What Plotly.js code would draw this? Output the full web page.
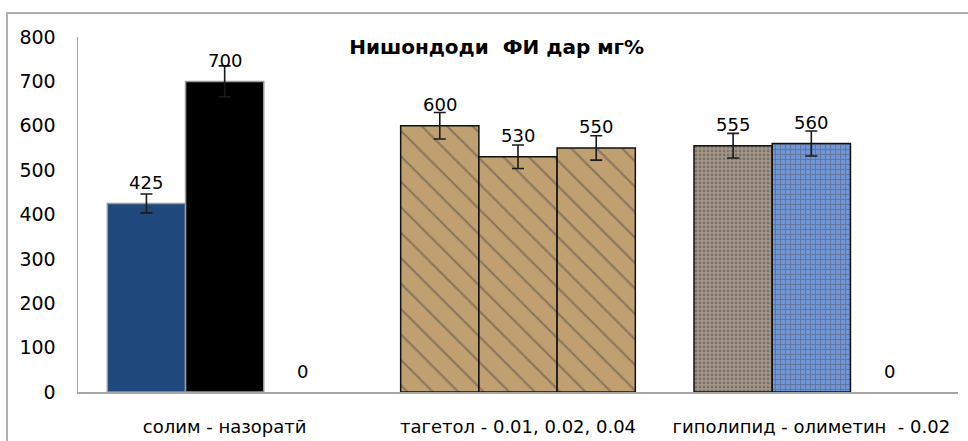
<!DOCTYPE html>
<html>
<head>
<meta charset="utf-8">
<script src="https://cdn.plot.ly/plotly-3.0.1.min.js"></script>
<style>
  html, body { margin: 0; padding: 0; background: #fff; overflow: hidden; }
  #wrap { position: relative; width: 968px; height: 441px; }
  #chart { position: absolute; left: 0; top: 0; width: 968px; height: 441px; }
  #frame {
    position: absolute; left: 6px; top: 12px; width: 1000px; height: 500px;
    border-top: 2px solid #b0b0b0; border-left: 2px solid #b0b0b0;
    pointer-events: none;
  }
</style>
</head>
<body>
<div id="wrap">
  <div id="chart"></div>
  <div id="frame"></div>
</div>
<script>
// Groups on the x axis
const categories = ['солим - назоратӣ', 'тагетол - 0.01, 0.02, 0.04', 'гиполипид - олиметин  - 0.02'];

// Three bars per group
const series1 = [425, 600, 555];
const series2 = [700, 530, 560];
const series3 = [0, 550, 0];

const yTicks = [0, 100, 200, 300, 400, 500, 600, 700, 800];
const chartTitle = 'Нишондоди  ФИ дар мг%';

// Fill styles per bar (base colour, texture pattern)
const paper = { color: '#c09f70', shape: '\\', fg: '#6f5232', size: 18, sol: 0.12, line: '#111' };
const granite = { color: '#a69889', shape: '.', fg: '#4f463e', size: 4, sol: 0.4, line: '#111' };
const weave = { color: '#7196d6', shape: '+', fg: '#34569a', size: 5, sol: 0.3, line: '#111' };
const navy = { color: '#1f497d', shape: '', fg: '#1f497d', size: 8, sol: 0.3, line: '#9a9a9a' };
const black = { color: '#000000', shape: '', fg: '#000000', size: 8, sol: 0.3, line: '#9a9a9a' };
const none = { color: 'rgba(0,0,0,0)', shape: '', fg: '#000', size: 8, sol: 0.3, line: 'rgba(0,0,0,0)' };

const styles = [
  [navy, paper, granite],
  [black, paper, weave],
  [none, paper, none]
];
const seriesList = [series1, series2, series3];

const font = 'DejaVu Sans, Arial, sans-serif';
const bargap = 0.2;

const traces = seriesList.map((vals, k) => {
  const st = styles[k];
  return {
    type: 'bar',
    x: categories,
    // a zero value has no bar (its label is still drawn below)
    y: vals.map(v => (v === 0 ? null : v)),
    name: 'S' + (k + 1),
    marker: {
      color: st.map(s => s.color),
      line: { color: st.map(s => s.line), width: 1.5 },
      pattern: {
        shape: st.map(s => s.shape),
        fgcolor: st.map(s => s.fg),
        size: st.map(s => s.size),
        solidity: st.map(s => s.sol),
        fillmode: 'overlay',
        fgopacity: 0.45
      }
    },
    error_y: {
      type: 'percent', value: 5, visible: true,
      color: '#1a1a1a', thickness: 1.6, width: 6
    },
    hoverinfo: 'skip'
  };
});

// Value labels above each bar, placed at the bar's slot within its group
const slot = (1 - bargap) / seriesList.length;
const annotations = [];
seriesList.forEach((vals, k) => {
  vals.forEach((v, i) => {
    annotations.push({
      x: i + (k - (seriesList.length - 1) / 2) * slot,
      y: v,
      xref: 'x', yref: 'y',
      text: String(v),
      showarrow: false,
      yanchor: 'middle',
      yshift: 21,
      font: { family: font, size: 18, color: '#000' }
    });
  });
});

const layout = {
  width: 968,
  height: 441,
  margin: { l: 78, r: 10, t: 37, b: 49 },
  paper_bgcolor: 'rgba(0,0,0,0)',
  plot_bgcolor: 'rgba(0,0,0,0)',
  barmode: 'group',
  bargap: bargap,
  bargroupgap: 0,
  showlegend: false,
  title: {
    text: chartTitle,
    x: 0.513, xref: 'container', xanchor: 'center',
    y: 0.893, yref: 'container', yanchor: 'middle',
    font: { family: font, size: 20, color: '#000', weight: 'bold' }
  },
  xaxis: {
    type: 'category',
    showline: true, linecolor: '#a6a6a6', linewidth: 1.5,
    showgrid: false, zeroline: false, ticks: '',
    ticklabelstandoff: 18,
    tickfont: { family: font, size: 18, color: '#000' }
  },
  yaxis: {
    range: [0, 800],
    tickvals: yTicks,
    ticktext: yTicks.map(String),
    showline: true, linecolor: '#a6a6a6', linewidth: 1.5,
    showgrid: false, zeroline: false, ticks: '',
    ticklabelstandoff: 17,
    tickfont: { family: font, size: 19, color: '#000' }
  },
  annotations: annotations
};

Plotly.newPlot('chart', traces, layout, { staticPlot: true, displayModeBar: false });
</script>
</body>
</html>
